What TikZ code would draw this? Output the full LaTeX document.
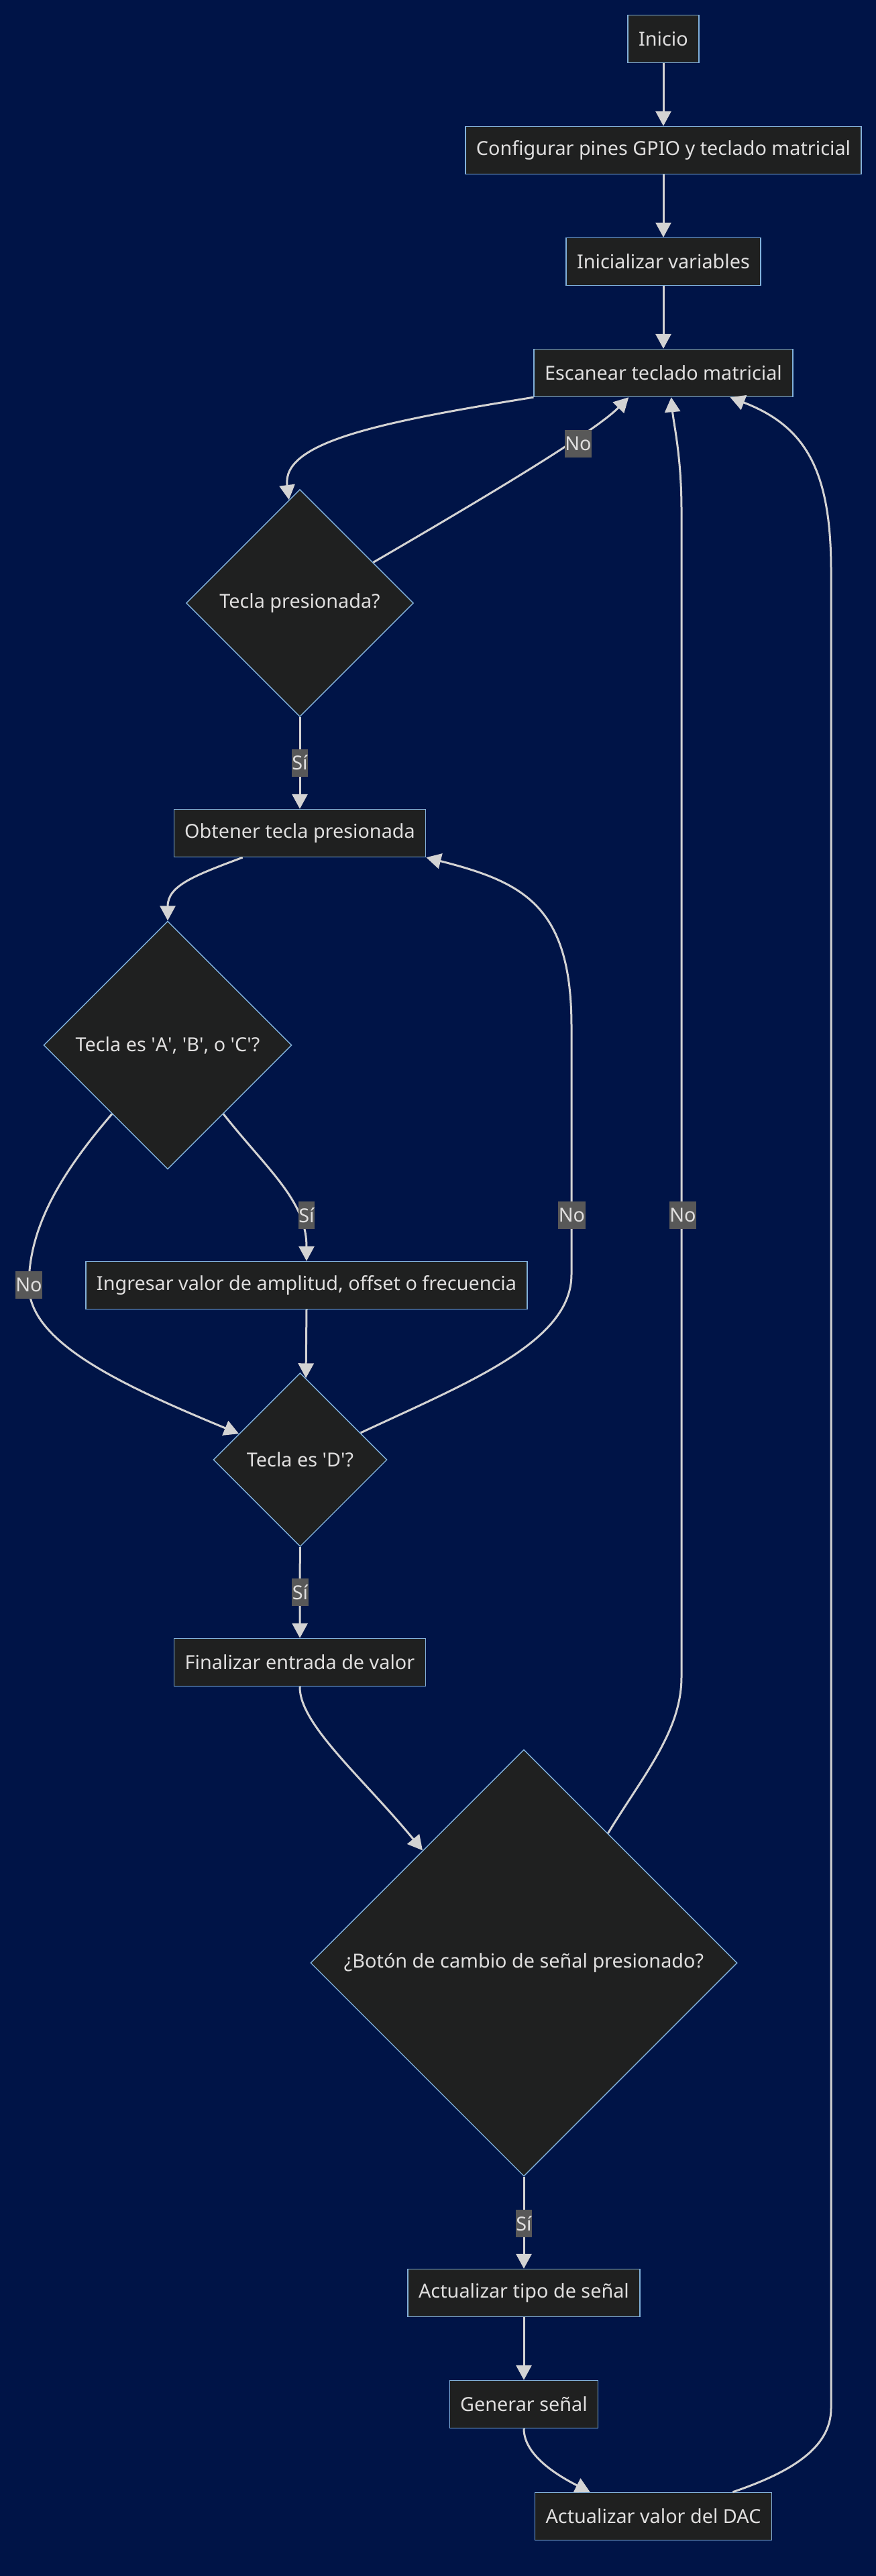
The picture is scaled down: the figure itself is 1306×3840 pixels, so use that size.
\documentclass[tikz,border=0pt]{standalone}
\usepackage{fontspec}
\setmainfont{Noto Sans}
\usetikzlibrary{shapes.geometric, arrows.meta}
\definecolor{bgblue}{HTML}{001447}
\definecolor{nodefill}{HTML}{1F2020}
\definecolor{nodeline}{HTML}{81B1DB}
\definecolor{edgegray}{HTML}{D3D3D3}
\definecolor{lblgray}{HTML}{585858}
\definecolor{txtgray}{HTML}{E0DFDF}
\begin{document}
\begin{tikzpicture}[x=0.5pt, y=-0.5pt,
	font=\fontsize{14.4}{17}\selectfont,
	box/.style={draw=nodeline, fill=nodefill, line width=0.7pt, text=txtgray, minimum height=35.5pt, inner xsep=8pt, inner ysep=0pt},
	decision/.style={diamond, aspect=1, draw=nodeline, fill=nodefill, line width=0.7pt, text=txtgray, inner sep=0pt},
	lbl/.style={fill=lblgray, text=txtgray, inner xsep=0.2pt, inner ysep=0pt, minimum height=20.5pt},
	flow/.style={draw=edgegray, line width=1.5pt, -{Triangle[length=11pt, width=11.5pt]}}]
	\fill[bgblue] (0, 0) rectangle (1306, 3840);
	\useasboundingbox (0, 0) rectangle (1306, 3840);

	\node[box] (inicio) at (989, 58) {Inicio};
	\node[box] (config) at (989, 224) {Configurar pines GPIO y teclado matricial};
	\node[box] (initvar) at (989, 390) {Inicializar variables};
	\node[box] (esc) at (989, 556) {Escanear teclado matricial};
	\node[decision, minimum width=169.5pt, minimum height=169.5pt] (tp) at (447, 899) {Tecla presionada?};
	\node[box] (obt) at (447, 1242) {Obtener tecla presionada};
	\node[decision, minimum width=185pt, minimum height=185pt] (tabc) at (250, 1558) {Tecla es \textquotesingle A\textquotesingle, \textquotesingle B\textquotesingle, o \textquotesingle C\textquotesingle?};
	\node[box] (ing) at (457, 1916) {Ingresar valor de amplitud, offset o frecuencia};
	\node[decision, minimum width=129.5pt, minimum height=129.5pt] (td) at (447.5, 2176) {Tecla es \textquotesingle D\textquotesingle?};
	\node[box] (fin) at (447, 2478) {Finalizar entrada de valor};
	\node[decision, minimum width=318pt, minimum height=318pt] (boton) at (781, 2926) {¿Botón de cambio de señal presionado?};
	\node[box] (tipo) at (781, 3418) {Actualizar tipo de señal};
	\node[box] (gen) at (781, 3584) {Generar señal};
	\node[box] (dac) at (974, 3751) {Actualizar valor del DAC};

	\draw[flow] (inicio) -- (config);
	\draw[flow] (config) -- (initvar);
	\draw[flow] (initvar) -- (esc);
	\draw[flow] (esc.south west) .. controls (560, 630) and (420, 660) .. (tp.96);
	\draw[flow] (tp.29) .. controls (760, 720) and (890, 640) .. (esc.-145);
	\draw[flow] (tp) -- (obt);
	\draw[flow] (obt.-157) .. controls (290, 1305) and (250, 1320) .. (tabc.north);
	\draw[flow] (tabc.-51) .. controls (400, 1745) and (457, 1790) .. (ing.north);
	\draw[flow] (tabc.-129) .. controls (90, 1750) and (43, 1830) .. (43, 1916) .. controls (43, 2000) and (177, 2063) .. (td.157);
	\draw[flow] (ing.south) -- (td.86);
	\draw[flow] (td.24) .. controls (700, 2060) and (852, 2000) .. (852, 1900) -- (852, 1530) .. controls (852, 1350) and (780, 1315) .. (obt.south east);
	\draw[flow] (td) -- (fin);
	\draw[flow] (fin.south) .. controls (446, 2570) and (540, 2649) .. (boton.132);
	\draw[flow] (boton.57) .. controls (960, 2645) and (1016, 2580) .. (1016, 2500) -- (1016, 760) .. controls (1016, 680) and (1004, 630) .. (esc.-72);
	\draw[flow] (boton) -- (tipo);
	\draw[flow] (tipo) -- (gen);
	\draw[flow] (gen.south) .. controls (781, 3660) and (831, 3690) .. (dac.159);
	\draw[flow] (dac.17.4) .. controls (1177, 3686) and (1239, 3650) .. (1239, 3590) -- (1239, 850) .. controls (1239, 700) and (1200, 635) .. (esc.-20.5);

	\node[lbl] (no1) at (862, 661) {No};
	\node[lbl] (si1) at (447, 1137) {Sí};
	\node[lbl] (si2) at (457, 1811.5) {Sí};
	\node[lbl] (no2) at (43, 1915.5) {No};
	\node[lbl] (no3) at (852.5, 1811.5) {No};
	\node[lbl] (no4) at (1018, 1811.5) {No};
	\node[lbl] (si3) at (447.5, 2373.7) {Sí};
	\node[lbl] (si4) at (781, 3314.5) {Sí};
\end{tikzpicture}
\end{document}
